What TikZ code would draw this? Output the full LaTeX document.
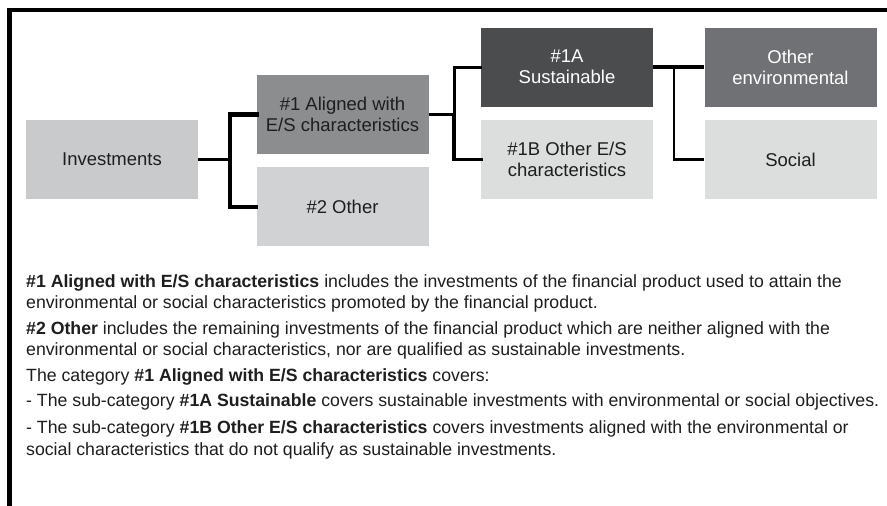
\documentclass[tikz,border=0pt]{standalone}
\usepackage{fontspec}
\setmainfont{Liberation Sans}
\definecolor{cInv}{HTML}{C9CACB}
\definecolor{cAl}{HTML}{8B8D8F}
\definecolor{cOth}{HTML}{D1D2D3}
\definecolor{cSus}{HTML}{4B4C4E}
\definecolor{cOE}{HTML}{6F7174}
\definecolor{cLt}{HTML}{DCDDDD}
\definecolor{cTxt}{HTML}{1E1E1E}
\begin{document}
\begin{tikzpicture}[x=1pt,y=-1pt,
  box/.style={minimum width=172pt, minimum height=79pt, inner sep=0pt, align=center,
    font=\fontsize{18.5}{21}\selectfont, text=cTxt},
  lightbox/.style={box, text=white},
  conn/.style={draw=black, line width=#1},
  conn/.default=3pt,
  para/.style={anchor=base west, inner sep=0pt, font=\fontsize{17.7}{21}\selectfont, text=cTxt}]
\useasboundingbox (0,0) rectangle (887,506);
\fill[white] (0,0) rectangle (887,506);
% frame
\draw[line width=4.5pt, line cap=rect] (887,10) -- (9.5,10) -- (9.5,506);
% boxes
\node[box, fill=cInv] (inv) at (112,159.5) {Investments};
\node[box, fill=cAl] (al) at (342.5,114.5) {\#1 Aligned with\\E/S characteristics};
\node[box, fill=cOth] (oth) at (342.5,206.5) {\#2 Other};
\node[lightbox, fill=cSus] (sus) at (567,67) {\#1A\\Sustainable};
\node[box, fill=cLt] (ob) at (567,159.5) {\#1B Other E/S\\characteristics};
\node[lightbox, fill=cOE] (oe) at (790.5,67) {Other\\environmental};
\node[box, fill=cLt] (soc) at (790.5,159.5) {Social};
% connectors
\coordinate (j1) at (230,159.5);
\coordinate (j2) at (454,114.5);
\coordinate (j3) at (674,67);
\draw[conn=2.5pt] (inv.east) -- (j1);
\draw[conn=4.5pt, line cap=rect] (j1) |- (al.west);
\draw[conn=4pt, line cap=rect] (j1) |- (oth.west);
\draw[conn=3pt] (al.east) -- (j2);
\draw[conn=3pt, line cap=rect] (j2) |- (sus.west);
\draw[conn=3.5pt, line cap=rect] (j2) |- (ob.west);
\draw[conn=4pt] (sus.east) -- (oe.west);
\draw[conn=2.5pt] (j3) |- (soc.west);
% explanatory text
\node[para] (l1) at (26,287) {\textbf{\#1 Aligned with E/S characteristics} includes the investments of the financial product used to attain the};
\node[para] (l2) at (26,308) {environmental or social characteristics promoted by the financial product.};
\node[para] (l3) at (26,334) {\textbf{\#2 Other} includes the remaining investments of the financial product which are neither aligned with the};
\node[para] (l4) at (26,355) {environmental or social characteristics, nor are qualified as sustainable investments.};
\node[para] (l5) at (26,381) {The category \textbf{\#1 Aligned with E/S characteristics} covers:};
\node[para] (l6) at (26,406) {- The sub-category \textbf{\#1A Sustainable} covers sustainable investments with environmental or social objectives.};
\node[para] (l7) at (26,433) {- The sub-category \textbf{\#1B Other E/S characteristics} covers investments aligned with the environmental or};
\node[para] (l8) at (26,455) {social characteristics that do not qualify as sustainable investments.};
\end{tikzpicture}
\end{document}
